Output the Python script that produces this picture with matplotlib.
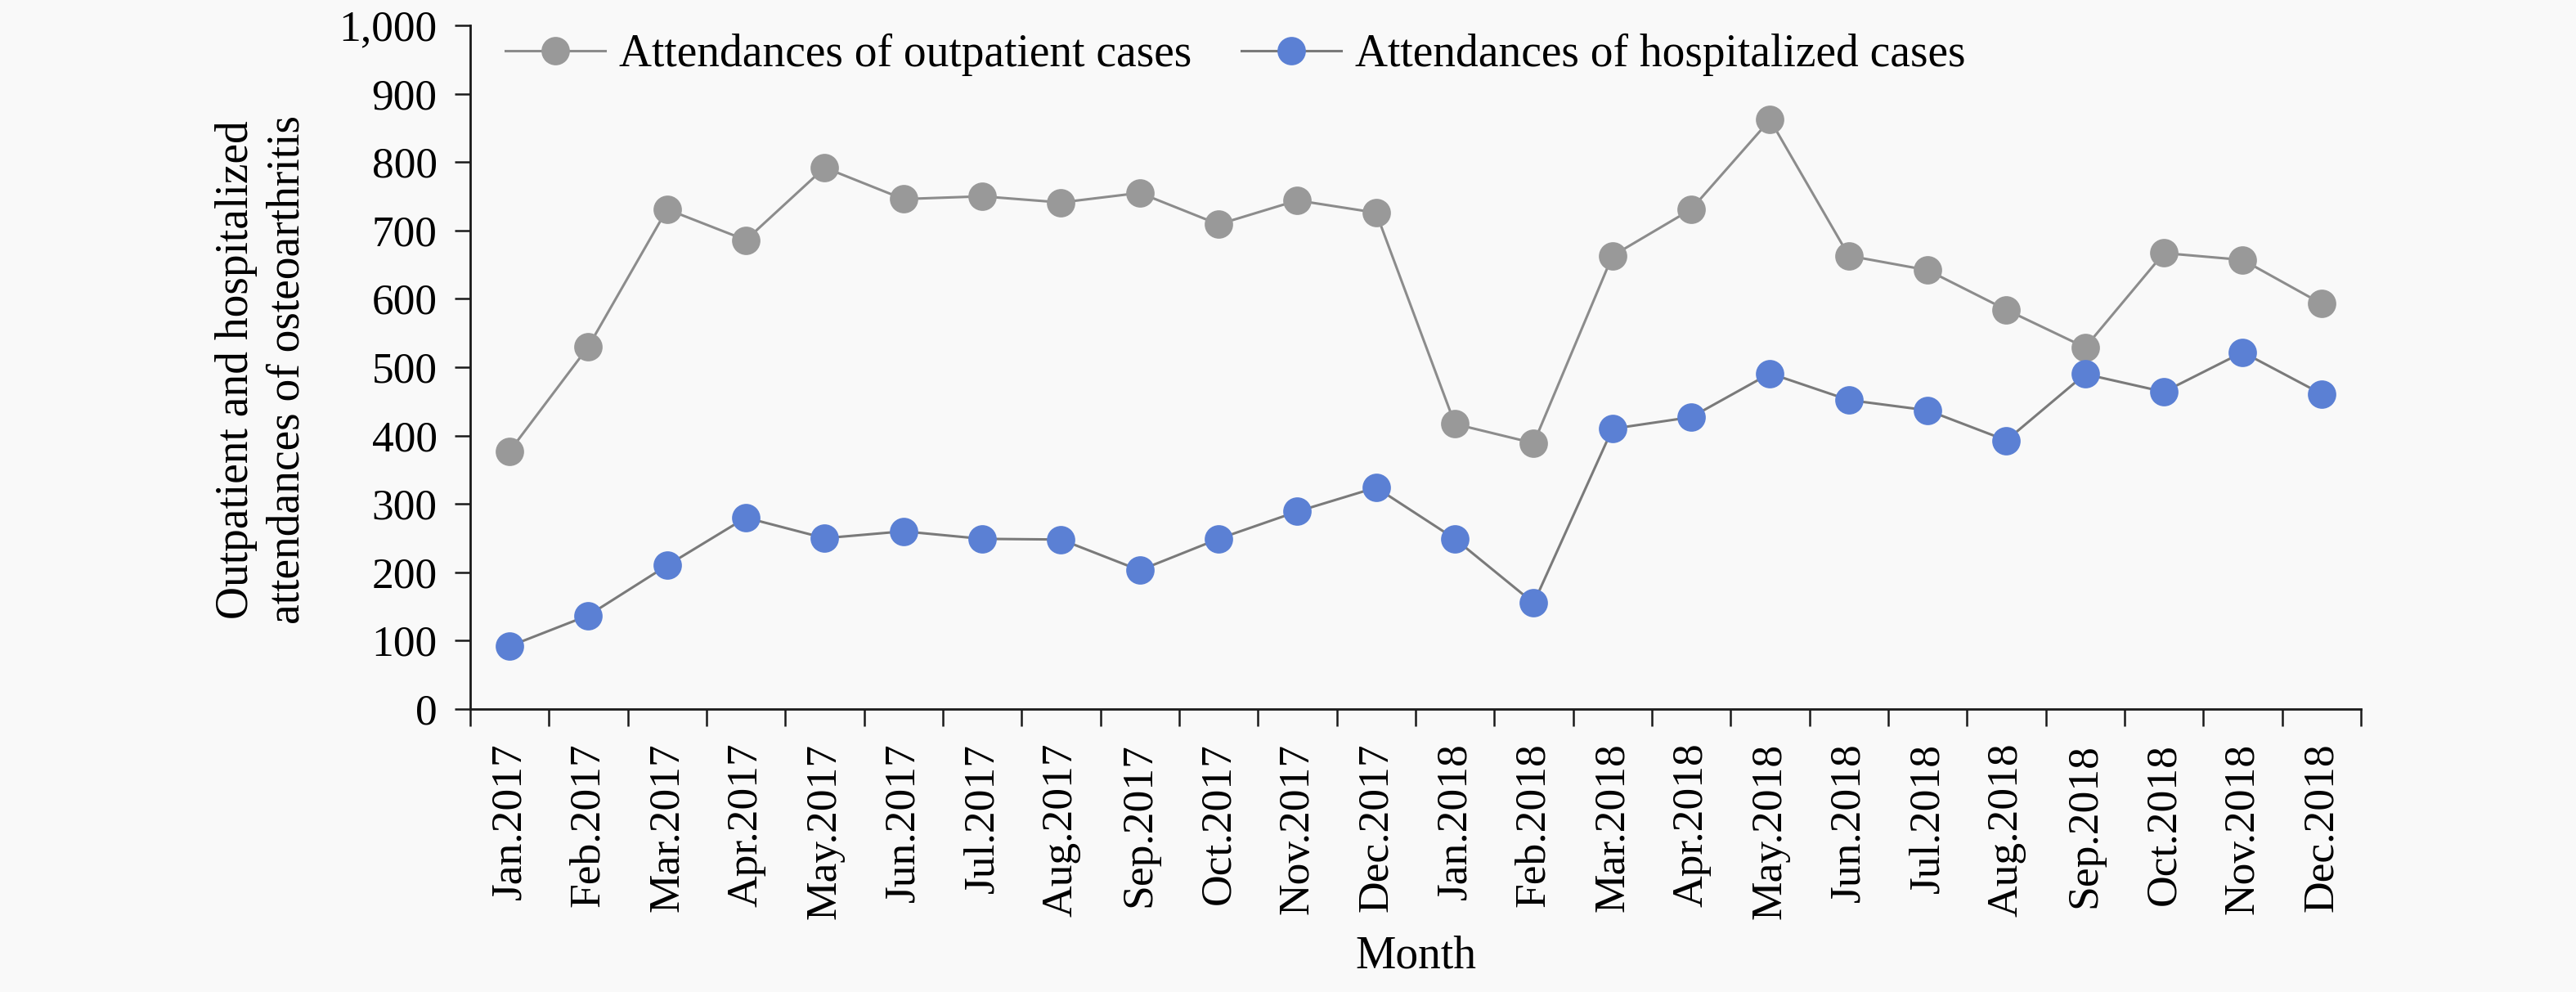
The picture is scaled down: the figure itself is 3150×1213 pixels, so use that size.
import matplotlib
matplotlib.use('Agg')
import matplotlib.pyplot as plt
import numpy as np

### DATA ###
months = ['Jan.2017', 'Feb.2017', 'Mar.2017', 'Apr.2017', 'May.2017', 'Jun.2017',
          'Jul.2017', 'Aug.2017', 'Sep.2017', 'Oct.2017', 'Nov.2017', 'Dec.2017',
          'Jan.2018', 'Feb.2018', 'Mar.2018', 'Apr.2018', 'May.2018', 'Jun.2018',
          'Jul.2018', 'Aug.2018', 'Sep.2018', 'Oct.2018', 'Nov.2018', 'Dec.2018']
outpatient = [377, 530, 731, 686, 792, 746, 750, 741, 755, 709, 744, 726,
              417, 389, 663, 731, 862, 663, 642, 584, 529, 667, 657, 593]
hospitalized = [92, 137, 210, 280, 250, 260, 249, 248, 203, 249, 289, 324,
                249, 155, 410, 427, 491, 452, 437, 393, 490, 464, 522, 461]
yticks = [0, 100, 200, 300, 400, 500, 600, 700, 800, 900, 1000]
ytick_labels = ['0', '100', '200', '300', '400', '500', '600', '700', '800', '900', '1,000']

### STYLE ###
plt.rcParams['font.family'] = ['Liberation Serif', 'DejaVu Serif']
FS = 40
BG = '#f9f9f9'

fig = plt.figure(figsize=(31.5, 12.13), dpi=100, facecolor=BG)
ax = fig.add_axes([0.1825, 0.2852, 0.9165 - 0.1825, 0.9744 - 0.2852])
ax.set_facecolor(BG)

x = np.arange(len(months))
ax.plot(x, outpatient, color='#8c8c8c', linewidth=2.2, marker='o', markersize=25,
        markerfacecolor='#999999', markeredgewidth=0, label='Attendances of outpatient cases')
ax.plot(x, hospitalized, color='#7a7a7a', linewidth=2.2, marker='o', markersize=25,
        markerfacecolor='#5b80d4', markeredgewidth=0, label='Attendances of hospitalized cases')

# axes limits and spines
ax.set_xlim(-0.5, len(months) - 0.5)
ax.set_ylim(0, 1000)
for s in ['top', 'right']:
    ax.spines[s].set_visible(False)
for s in ['left', 'bottom']:
    ax.spines[s].set_linewidth(2)
    ax.spines[s].set_color('#1a1a1a')

# y ticks
ax.set_yticks(yticks)
ax.set_yticklabels(ytick_labels, fontsize=38.5)
ax.tick_params(axis='y', direction='out', length=14, width=1.8, pad=15, color='#1a1a1a')

# x ticks: boundaries as major ticks, labels at centers
ax.set_xticks(np.arange(-0.5, len(months)), minor=False)
ax.set_xticklabels([''] * (len(months) + 1))
ax.set_xticks(x, minor=True)
ax.set_xticklabels(months, minor=True, rotation=90, fontsize=38.5)
ax.tick_params(axis='x', which='major', direction='out', length=15, width=1.8, color='#1a1a1a')
ax.tick_params(axis='x', which='minor', length=0, pad=30)

# axis titles
fig.text(320 / 3150, 1 - 452 / 1213, 'Outpatient and hospitalized\nattendances of osteoarthritis',
         rotation=90, ha='center', va='center', fontsize=FS, linespacing=1.25)
fig.text(1731 / 3150, 1 - 1170 / 1213, 'Month', ha='center', va='center', fontsize=FS)

# legend
ax.legend(loc='center left', bbox_to_anchor=(618 / 3150, 1 - 67 / 1213),
          bbox_transform=fig.transFigure, ncol=2, frameon=False, fontsize=FS,
          borderpad=0, borderaxespad=0, handlelength=2.2, handletextpad=0.3,
          columnspacing=1.1)

plt.savefig('out.png', dpi=100, facecolor=BG)
